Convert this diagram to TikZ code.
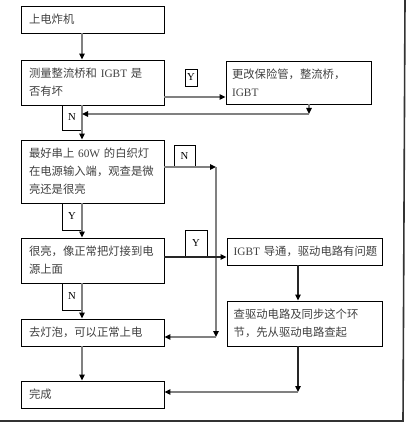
\documentclass[tikz,border=0pt]{standalone}
\usepackage{fontspec}
\setmainfont{Liberation Serif}
\newfontfamily\cjk{Noto Sans CJK SC}
\usepackage{tikz}
\usetikzlibrary{arrows.meta, calc}
\newcommand\enword[1]{{\rmfamily #1}}

\begin{document}
\begin{tikzpicture}[x=0.75pt, y=-0.75pt,
  stepbox/.style={draw=black, line width=0.6pt, inner xsep=6pt, inner ysep=2pt,
                  text width=95.25pt, minimum height=20.25pt, align=left,
                  font=\cjk\fontsize{8.5pt}{13.5pt}\selectfont, text=black!75},
  sidebox/.style={stepbox, inner xsep=5pt, text width=106.25pt},
  tag/.style={draw=black, line width=0.6pt, inner sep=0pt, minimum width=15pt,
              minimum height=20.25pt, font=\rmfamily\fontsize{8pt}{9pt}\selectfont},
  flow/.style={draw=black!50, line width=1pt,
               -{Triangle[black, length=4.5pt, width=4pt]}},
  flowdark/.style={flow, draw=black!85}
]
  \useasboundingbox (0,0) rectangle (408,424);

  % Left column
  \node[stepbox] (b1) at (92.5, 19.5) {上电炸机};
  \node[stepbox, minimum height=33.75pt] (b2) at (92.5, 82.5)
    {测量整流桥和 \enword{IGBT} 是\\否有坏};
  \node[stepbox, minimum height=47.25pt] (b4) at (92.5, 171.5)
    {\mbox{最好串上 \enword{60W} 的白织灯}\\\mbox{在电源输入端，观查是微}\\亮还是很亮};
  \node[stepbox, minimum height=33.75pt] (b5) at (92.5, 260.5)
    {很亮，像正常把灯接到电\\源上面};
  \node[stepbox] (b6) at (92.5, 332.5) {去灯泡，可以正常上电};
  \node[stepbox] (b9) at (92.5, 394.5) {完成};

  % Right column
  \node[stepbox, text width=99.75pt, inner xsep=4.5pt, minimum height=32.25pt]
    (b3) at (298.5, 82.5) {更改保险管，整流桥，\\\enword{IGBT}};
  \node[sidebox] (b7) at (304.5, 251.5) {\mbox{\enword{IGBT} 导通，驱动电路有问题}};
  \node[sidebox, minimum height=33.75pt] (b8) at (304.5, 323.5)
    {查驱动电路及同步这个环\\节，先从驱动电路查起};

  % Y / N tags
  \node[tag, minimum width=9pt, minimum height=12.75pt] (y1) at (191, 77.5) {Y};
  \node[tag, minimum height=18.75pt] (n1) at (72, 117.5) {N};
  \node[tag, minimum width=15.75pt, minimum height=16.5pt] (n2) at (184.5, 156) {N};
  \node[tag] (y2) at (72, 216.5) {Y};
  \node[tag, minimum width=16.5pt] (y3) at (196, 243.5) {Y};
  \node[tag] (n3) at (72, 296.5) {N};

  % Turning points
  \coordinate (col) at (82, 0);
  \coordinate (rcol) at (298, 0);
  \coordinate (yes1) at (0, 97);
  \coordinate (back1) at (309, 114);
  \coordinate (no2a) at (216, 167);
  \coordinate (no2b) at (216, 337);
  \coordinate (yes3) at (0, 257);
  \coordinate (end2) at (298, 392);

  % Main flow
  \draw[flow] (b1.south -| col) -- (b2.north -| col);
  \draw[flow] (b2.south -| col) -- (b4.north -| col);
  \draw[flow] (b4.south -| col) -- (b5.north -| col);
  \draw[flow] (b5.south -| col) -- (b6.north -| col);
  \draw[flow] (b6.south -| col) -- (b9.north -| col);

  % Branches
  \draw[flow] (b2.east |- yes1) -- (b3.west |- yes1);
  \draw[flow] (b3.south -| back1) -- (back1);
  \draw[flow] (back1) -- (back1 -| col);
  \draw[flow] (b4.east |- no2a) -- (no2a);
  \draw[flow] (no2a) -- (no2b);
  \draw[flow] (no2b) -- (b6.east |- no2b);
  \draw[flowdark] (b5.east |- yes3) -- (b7.west |- yes3);
  \draw[flowdark] (b7.south -| rcol) -- (b8.north -| rcol);
  \draw[flowdark] (b8.south -| rcol) -- (end2);
  \draw[flow] (end2) -- (b9.east |- end2);

  % Page edges
  \draw[black!80, line width=1.2pt] (405, 0) -- (403, 421) -- (0, 421);
\end{tikzpicture}
\end{document}
